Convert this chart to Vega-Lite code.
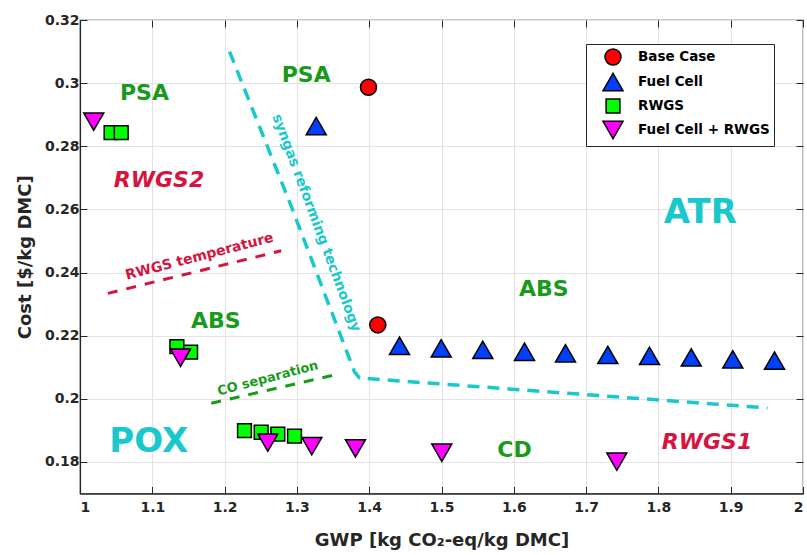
{
  "$schema": "https://vega.github.io/schema/vega-lite/v6.json",
  "width": 723,
  "height": 473.5,
  "autosize": {"type": "none"},
  "padding": {"left": 80, "top": 20, "right": 4, "bottom": 61.5},
  "background": "white",
  "config": {
    "font": "DejaVu Sans",
    "view": {"stroke": "#262626", "strokeWidth": 1.2},
    "axis": {
      "labelFont": "DejaVu Sans", "labelFontWeight": "bold", "labelFontSize": 14, "labelColor": "#262626",
      "titleFont": "DejaVu Sans", "titleFontWeight": "bold", "titleFontSize": 18, "titleColor": "#262626",
      "gridColor": "#e3e3e3", "gridWidth": 1,
      "domainColor": "#262626", "domainWidth": 1.2,
      "tickColor": "#262626", "tickSize": -7, "tickWidth": 1
    }
  },
  "datasets": {
    "points": [
      {"series": "Base Case", "x": 1.399, "y": 0.2987},
      {"series": "Base Case", "x": 1.4119, "y": 0.2234},
      {"series": "Fuel Cell", "x": 1.3267, "y": 0.2864},
      {"series": "Fuel Cell", "x": 1.4419, "y": 0.2168},
      {"series": "Fuel Cell", "x": 1.4996, "y": 0.216},
      {"series": "Fuel Cell", "x": 1.5571, "y": 0.2155},
      {"series": "Fuel Cell", "x": 1.6148, "y": 0.2149},
      {"series": "Fuel Cell", "x": 1.6715, "y": 0.2144},
      {"series": "Fuel Cell", "x": 1.73, "y": 0.2139},
      {"series": "Fuel Cell", "x": 1.7877, "y": 0.2136},
      {"series": "Fuel Cell", "x": 1.8454, "y": 0.2131},
      {"series": "Fuel Cell", "x": 1.9029, "y": 0.2125},
      {"series": "Fuel Cell", "x": 1.9606, "y": 0.2121},
      {"series": "RWGS", "x": 1.043, "y": 0.2843},
      {"series": "RWGS", "x": 1.057, "y": 0.2843},
      {"series": "RWGS", "x": 1.134, "y": 0.2165},
      {"series": "RWGS", "x": 1.153, "y": 0.2148},
      {"series": "RWGS", "x": 1.2275, "y": 0.1899},
      {"series": "RWGS", "x": 1.2506, "y": 0.1894},
      {"series": "RWGS", "x": 1.2736, "y": 0.1888},
      {"series": "RWGS", "x": 1.2967, "y": 0.1882},
      {"series": "Fuel Cell + RWGS", "x": 1.019, "y": 0.2878},
      {"series": "Fuel Cell + RWGS", "x": 1.139, "y": 0.213},
      {"series": "Fuel Cell + RWGS", "x": 1.2598, "y": 0.1861},
      {"series": "Fuel Cell + RWGS", "x": 1.3206, "y": 0.185},
      {"series": "Fuel Cell + RWGS", "x": 1.381, "y": 0.1843},
      {"series": "Fuel Cell + RWGS", "x": 1.5004, "y": 0.1829},
      {"series": "Fuel Cell + RWGS", "x": 1.7425, "y": 0.1801}
    ],
    "lines": [
      {"line": "reform", "ord": 1, "x": 1.2068, "y": 0.31},
      {"line": "reform", "ord": 2, "x": 1.2925, "y": 0.2608},
      {"line": "reform", "ord": 3, "x": 1.3797, "y": 0.2085},
      {"line": "reform", "ord": 4, "x": 1.3866, "y": 0.2066},
      {"line": "reform", "ord": 5, "x": 1.9509, "y": 0.1971},
      {"line": "rwgs", "ord": 1, "x": 1.0385, "y": 0.2334},
      {"line": "rwgs", "ord": 2, "x": 1.2783, "y": 0.2469},
      {"line": "co", "ord": 1, "x": 1.1815, "y": 0.1986},
      {"line": "co", "ord": 2, "x": 1.3566, "y": 0.2078}
    ],
    "labels": [
      {"group": "big", "label": "ATR", "x": 1.858, "y": 0.2589},
      {"group": "big", "label": "POX", "x": 1.095, "y": 0.1864},
      {"group": "green", "label": "PSA", "x": 1.0892, "y": 0.297},
      {"group": "green", "label": "PSA", "x": 1.3129, "y": 0.3026},
      {"group": "green", "label": "ABS", "x": 1.6414, "y": 0.2348},
      {"group": "green", "label": "ABS", "x": 1.1877, "y": 0.2248},
      {"group": "green", "label": "CD", "x": 1.601, "y": 0.1838},
      {"group": "red", "label": "RWGS2", "x": 1.1093, "y": 0.2693},
      {"group": "red", "label": "RWGS1", "x": 1.8672, "y": 0.1864},
      {"group": "reform", "label": "syngas reforming technology", "x": 1.3267, "y": 0.2557},
      {"group": "rwgs", "label": "RWGS temperature", "x": 1.1653, "y": 0.245},
      {"group": "co", "label": "CO separation", "x": 1.2598, "y": 0.2065}
    ]
  },
  "layer": [
    {
      "encoding": {
        "x": {
          "field": "x", "type": "quantitative",
          "scale": {"domain": [1, 2], "nice": false, "zero": false},
          "axis": {
            "values": [1, 1.1, 1.2, 1.3, 1.4, 1.5, 1.6, 1.7, 1.8, 1.9, 2],
            "format": "~g", "labelPadding": 14,
            "title": "GWP [kg CO₂-eq/kg DMC]",
            "titleX": 361.5, "titleY": 52, "titleBaseline": "alphabetic", "titleAlign": "center"
          }
        },
        "y": {
          "field": "y", "type": "quantitative",
          "scale": {"domain": [0.17, 0.32], "nice": false, "zero": false},
          "axis": {
            "values": [0.18, 0.2, 0.22, 0.24, 0.26, 0.28, 0.3, 0.32],
            "format": "~g", "labelPadding": 8,
            "title": "Cost [$/kg DMC]",
            "titleX": -50, "titleY": 236.75, "titleBaseline": "alphabetic", "titleAlign": "center", "titleAngle": 270
          }
        }
      },
      "layer": [
        {
          "data": {"name": "lines"},
          "transform": [{"filter": "datum.line === 'reform'"}],
          "mark": {"type": "line", "color": "#19c8cc", "strokeWidth": 3.5, "strokeDash": [12, 8]},
          "encoding": {"order": {"field": "ord", "type": "quantitative"}}
        },
        {
          "data": {"name": "lines"},
          "transform": [{"filter": "datum.line === 'rwgs'"}],
          "mark": {"type": "line", "color": "#d6153f", "strokeWidth": 3, "strokeDash": [10, 9]},
          "encoding": {"order": {"field": "ord", "type": "quantitative"}}
        },
        {
          "data": {"name": "lines"},
          "transform": [{"filter": "datum.line === 'co'"}],
          "mark": {"type": "line", "color": "#1a9a1a", "strokeWidth": 3, "strokeDash": [10, 9]},
          "encoding": {"order": {"field": "ord", "type": "quantitative"}}
        },
        {
          "data": {"name": "labels"},
          "transform": [{"filter": "datum.group === 'big'"}],
          "mark": {"type": "text", "font": "DejaVu Sans", "fontWeight": "bold", "fontSize": 34, "color": "#19c8cc", "align": "center", "baseline": "middle"},
          "encoding": {"text": {"field": "label"}}
        },
        {
          "data": {"name": "labels"},
          "transform": [{"filter": "datum.group === 'green'"}],
          "mark": {"type": "text", "font": "DejaVu Sans", "fontWeight": "bold", "fontSize": 22, "color": "#1a9a1a", "align": "center", "baseline": "middle"},
          "encoding": {"text": {"field": "label"}}
        },
        {
          "data": {"name": "labels"},
          "transform": [{"filter": "datum.group === 'red'"}],
          "mark": {"type": "text", "font": "DejaVu Sans", "fontWeight": "bold", "fontStyle": "italic", "fontSize": 22, "color": "#d6153f", "align": "center", "baseline": "middle"},
          "encoding": {"text": {"field": "label"}}
        },
        {
          "data": {"name": "labels"},
          "transform": [{"filter": "datum.group === 'reform'"}],
          "mark": {"type": "text", "font": "DejaVu Sans", "fontWeight": "bold", "fontSize": 14, "color": "#19c8cc", "align": "center", "baseline": "middle", "angle": 69.6},
          "encoding": {"text": {"field": "label"}}
        },
        {
          "data": {"name": "labels"},
          "transform": [{"filter": "datum.group === 'rwgs'"}],
          "mark": {"type": "text", "font": "DejaVu Sans", "fontWeight": "bold", "fontSize": 14, "color": "#d6153f", "align": "center", "baseline": "middle", "angle": -14.6},
          "encoding": {"text": {"field": "label"}}
        },
        {
          "data": {"name": "labels"},
          "transform": [{"filter": "datum.group === 'co'"}],
          "mark": {"type": "text", "font": "DejaVu Sans", "fontWeight": "bold", "fontSize": 13, "color": "#1a9a1a", "align": "center", "baseline": "middle", "angle": -14.8},
          "encoding": {"text": {"field": "label"}}
        },
        {
          "data": {"name": "points"},
          "mark": {"type": "point", "filled": true, "stroke": "black", "strokeWidth": 1.5, "opacity": 1},
          "encoding": {
            "color": {
              "field": "series", "type": "nominal",
              "scale": {"domain": ["Base Case", "Fuel Cell", "RWGS", "Fuel Cell + RWGS"], "range": ["#ff0000", "#0040ff", "#00ff00", "#ff00ff"]},
              "legend": {
                "title": null, "orient": "none", "legendX": 506, "legendY": 24,
                "padding": 4, "symbolOffset": 12, "labelOffset": 14, "rowPadding": 2,
                "labelFont": "DejaVu Sans", "labelFontSize": 13.5, "labelFontWeight": "bold", "labelColor": "black",
                "strokeColor": "#262626", "fillColor": "white",
                "symbolStrokeColor": "black", "symbolStrokeWidth": 1.5
              }
            },
            "shape": {
              "field": "series", "type": "nominal",
              "scale": {"domain": ["Base Case", "Fuel Cell", "RWGS", "Fuel Cell + RWGS"], "range": ["circle", "triangle-up", "square", "triangle-down"]},
              "legend": {
                "title": null, "orient": "none", "legendX": 506, "legendY": 24,
                "padding": 4, "symbolOffset": 12, "labelOffset": 14, "rowPadding": 2,
                "labelFont": "DejaVu Sans", "labelFontSize": 13.5, "labelFontWeight": "bold", "labelColor": "black",
                "strokeColor": "#262626", "fillColor": "white",
                "symbolStrokeColor": "black", "symbolStrokeWidth": 1.5
              }
            },
            "size": {
              "field": "series", "type": "nominal",
              "scale": {"type": "ordinal", "domain": ["Base Case", "Fuel Cell", "RWGS", "Fuel Cell + RWGS"], "range": [256, 400, 190, 400]},
              "legend": {
                "title": null, "orient": "none", "legendX": 506, "legendY": 24,
                "padding": 4, "symbolOffset": 12, "labelOffset": 14, "rowPadding": 2,
                "labelFont": "DejaVu Sans", "labelFontSize": 13.5, "labelFontWeight": "bold", "labelColor": "black",
                "strokeColor": "#262626", "fillColor": "white",
                "symbolStrokeColor": "black", "symbolStrokeWidth": 1.5
              }
            }
          }
        }
      ]
    },
    {
      "data": {"name": "points"},
      "mark": {"type": "point", "opacity": 0},
      "encoding": {
        "x": {
          "field": "x", "type": "quantitative",
          "scale": {"domain": [1, 2], "nice": false, "zero": false},
          "axis": {"orient": "top", "values": [1, 1.1, 1.2, 1.3, 1.4, 1.5, 1.6, 1.7, 1.8, 1.9, 2], "labels": false, "grid": false, "domain": false, "title": null}
        },
        "y": {
          "field": "y", "type": "quantitative",
          "scale": {"domain": [0.17, 0.32], "nice": false, "zero": false},
          "axis": {"orient": "right", "values": [0.18, 0.2, 0.22, 0.24, 0.26, 0.28, 0.3, 0.32], "labels": false, "grid": false, "domain": false, "title": null}
        }
      }
    }
  ],
  "resolve": {"axis": {"x": "independent", "y": "independent"}}
}
